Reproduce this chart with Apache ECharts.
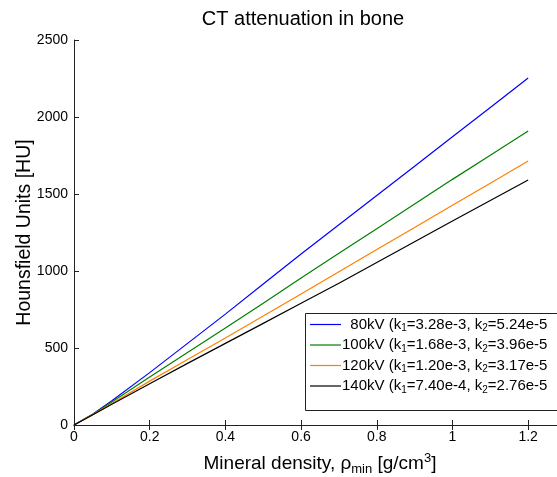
<!DOCTYPE html>
<html>
<head>
<meta charset="utf-8">
<script src="https://cdn.jsdelivr.net/npm/echarts@6/dist/echarts.min.js"></script>
<style>html,body{margin:0;padding:0;background:#fff;overflow:hidden}#c{width:620px;height:477px}</style>
</head>
<body>
<div id="c"></div>
<script>
const densities = [0, 0.05, 0.1, 0.2, 0.3, 0.4, 0.5, 0.6, 0.7, 0.8, 0.9, 1.0, 1.1, 1.2];
const hu80  = [0, 72, 158, 340, 530, 720, 915, 1110, 1300, 1490, 1680, 1872, 2062, 2253];
const hu100 = [0, 70, 150, 312, 470, 630, 790, 955, 1115, 1275, 1435, 1595, 1752, 1909];
const hu120 = [0, 68, 140, 285, 425, 565, 708, 850, 995, 1140, 1283, 1427, 1570, 1714];
const hu140 = [0, 66, 135, 268, 400, 530, 660, 790, 920, 1055, 1190, 1325, 1458, 1591];
const seriesNames = ['80kV', '100kV', '120kV', '140kV'];
const k1Values = ['3.28e-3', '1.68e-3', '1.20e-3', '7.40e-4'];
const k2Values = ['5.24e-5', '3.96e-5', '3.17e-5', '2.76e-5'];
const colors = ['#0000ff', '#008000', '#ff8000', '#000000'];
const xTicks = [0, 0.2, 0.4, 0.6, 0.8, 1, 1.2];
const yTicks = [0, 500, 1000, 1500, 2000, 2500];

const allHU = [hu80, hu100, hu120, hu140];
const FONT = 'Liberation Sans, Arial, sans-serif';
const PLOT_W = 492;

const chart = echarts.init(document.getElementById('c'), null, {renderer: 'canvas'});
const series = seriesNames.map((n, i) => ({
  name: n,
  type: 'line',
  data: densities.map((d, j) => [d, allHU[i][j]]),
  symbol: 'none',
  lineStyle: {color: colors[i], width: 1.2},
  itemStyle: {color: colors[i]},
  animation: false
}));

const axisCommon = {
  axisLine: {show: true, lineStyle: {color: '#222', width: 1}},
  axisTick: {show: true, inside: true, length: 5, lineStyle: {color: '#222'}},
  splitLine: {show: false}
};
const isTick = (arr, v) => arr.some(t => Math.abs(t - v) < 1e-9);

chart.setOption({
  animation: false,
  title: {
    text: 'CT attenuation in bone',
    left: 298, top: 4, textAlign: 'center',
    textStyle: {fontFamily: FONT, fontSize: 20, fontWeight: 'normal', color: '#000'}
  },
  grid: {left: 74, top: 40, height: 385, width: PLOT_W, containLabel: false, outerBoundsMode: 'none'},
  xAxis: [{
    type: 'value', min: 0, max: 1.3, interval: 0.2,
    ...axisCommon,
    axisLabel: {
      fontFamily: FONT, fontSize: 14, color: '#000', margin: 5,
      formatter: v => (isTick(xTicks, v) ? String(+v.toFixed(1)) : '')
    },
    name: 'Mineral density, {g|ρ}{sub|min} [g/cm{sup|3}]',
    nameLocation: 'middle', nameGap: 26, nameMoveOverlap: false,
    nameTextStyle: {
      fontFamily: FONT, fontSize: 19, color: '#000',
      rich: {
        g: {fontFamily: FONT, fontSize: 19, color: '#000'},
        sub: {fontFamily: FONT, fontSize: 13, color: '#000', padding: [12, 0, 0, 0]},
        sup: {fontFamily: FONT, fontSize: 13, color: '#000', padding: [0, 0, 10, 0]}
      }
    }
  }, {
    type: 'value', min: 0, max: 1.3, interval: 0.2, position: 'top',
    ...axisCommon,
    axisLabel: {show: false}
  }],
  yAxis: [{
    type: 'value', min: 0, max: 2500, interval: 500,
    ...axisCommon,
    axisLabel: {
      fontFamily: FONT, fontSize: 14, color: '#000', margin: 6,
      formatter: v => (isTick(yTicks, v) ? String(v) : '')
    },
    name: 'Hounsfield Units [HU]',
    nameLocation: 'middle', nameGap: 39, nameRotate: 90, nameMoveOverlap: false,
    nameTextStyle: {fontFamily: FONT, fontSize: 19.5, color: '#000'}
  }, {
    type: 'value', min: 0, max: 2500, interval: 500, position: 'right',
    offset: -PLOT_W,
    axisLine: {show: false},
    axisTick: {show: true, inside: true, length: 4, lineStyle: {color: '#222'}},
    axisLabel: {show: false},
    splitLine: {show: false}
  }],
  graphic: [{
    type: 'rect', x: 305.5, y: 313.5, z: 5, silent: true,
    shape: {x: 0, y: 0, width: 300, height: 97},
    style: {fill: '#fff', stroke: '#222', lineWidth: 1}
  }],
  legend: {
    orient: 'vertical',
    left: 305, top: 313, z: 10,
    padding: [4, 10, 4, 5],
    itemGap: 4,
    itemWidth: 31, itemHeight: 10,
    icon: 'path://M0,4.4 L31,4.4 L31,5.6 L0,5.6 Z',
    data: seriesNames,
    formatter: name => {
      const i = seriesNames.indexOf(name);
      return (i === 0 ? '  ' : '') + name + ' (k{s|1}=' + k1Values[i] + ', k{s|2}=' + k2Values[i];
    },
    textStyle: {
      fontFamily: FONT, fontSize: 15, color: '#000',
      padding: [0, 0, 0, -4],
      rich: {
        s: {fontFamily: FONT, fontSize: 10, color: '#000', padding: [8, 0, 0, 0]}
      }
    }
  },
  series: series
});
</script>
</body>
</html>
